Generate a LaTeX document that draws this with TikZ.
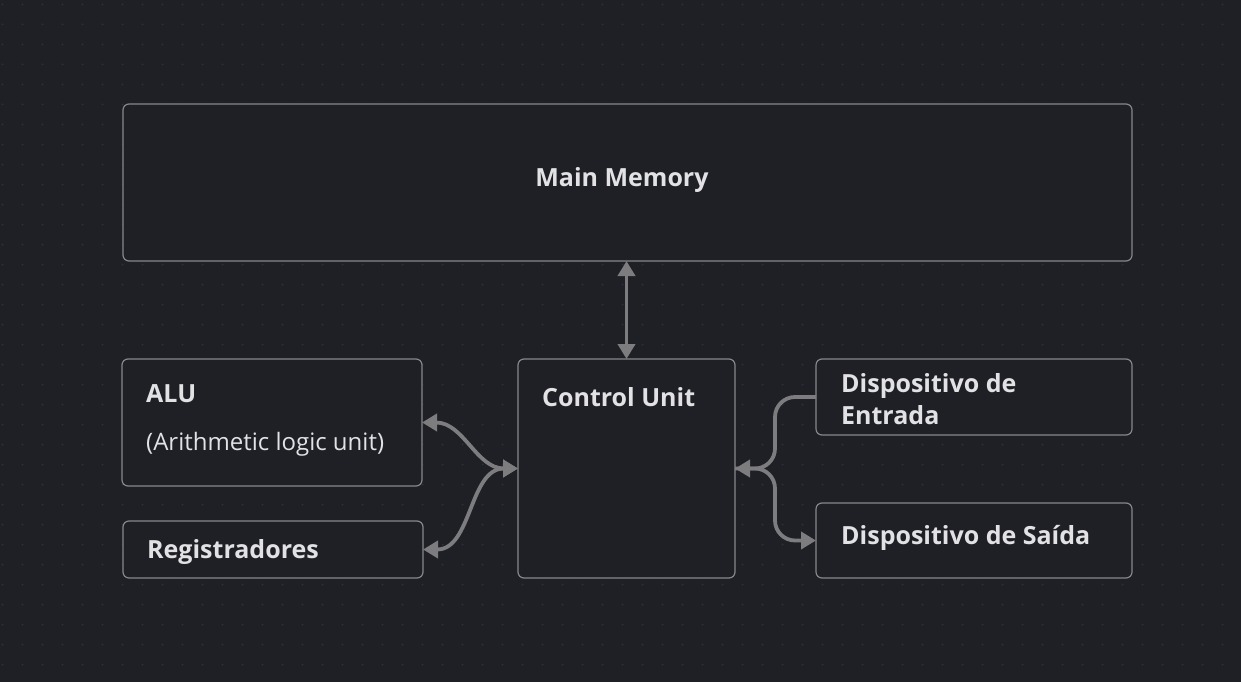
\documentclass[tikz,border=0pt]{standalone}
\usepackage{fontspec}
\setmainfont{Open Sans}
\usetikzlibrary{arrows.meta}
\definecolor{bgcol}{RGB}{30,32,38}
\definecolor{dotcol}{RGB}{46,49,56}
\definecolor{linecol}{RGB}{135,135,138}
\definecolor{arrcol}{RGB}{125,125,128}
\definecolor{txtcol}{RGB}{226,226,228}
\tikzset{
    unit/.style={draw=linecol, fill=bgcol, line width=1.2pt, rounded corners=6pt,
        inner sep=0pt, outer sep=0pt},
    title/.style={text=txtcol, font=\fontsize{25}{32}\selectfont\bfseries, inner sep=0pt, anchor=west},
    subtitle/.style={text=txtcol, font=\fontsize{24}{30}\selectfont, inner sep=0pt, anchor=west},
    bus/.style={draw=arrcol, line width=3.8pt, -{Triangle[length=15pt,width=17pt]}},
    busboth/.style={bus, {Triangle[length=15pt,width=17pt]}-{Triangle[length=15pt,width=17pt]}}
}
\begin{document}
\begin{tikzpicture}[x=1pt,y=-1pt]
    \fill[bgcol] (0,0) rectangle (1241,682);
    \useasboundingbox (0,0) rectangle (1241,682);
    % dotted canvas
    \foreach \i in {0,...,61}
        \foreach \j in {0,...,33}
            \fill[dotcol] (2.5+20*\i,4.5+20*\j) circle (1);

    \node[unit, minimum width=1009pt, minimum height=157pt] (mem) at (627.5,182.5) {};
    \node[title, anchor=center] (memtxt) at (622,180) {Main Memory};

    \node[unit, minimum width=300pt, minimum height=127pt] (alu) at (272,422.5) {};
    \node[title] (alutxt) at (146,394) {ALU};
    \node[subtitle] (aludesc) at (146,444) {(Arithmetic logic unit)};

    \node[unit, minimum width=300pt, minimum height=57pt] (reg) at (273,549.5) {};
    \node[title] (regtxt) at (147,552) {Registradores};

    \node[unit, minimum width=217pt, minimum height=219pt] (cu) at (626.5,468.5) {};
    \node[title] (cutxt) at (542,397) {Control Unit};

    \node[unit, minimum width=316pt, minimum height=76pt] (ent) at (974,397) {};
    \node[title, align=left] (enttxt) at (841,399) {Dispositivo de\\Entrada};

    \node[unit, minimum width=316pt, minimum height=75pt] (sai) at (974,540.5) {};
    \node[title] (saitxt) at (841,538) {Dispositivo de Saída};

    \coordinate (split) at (775,468.5);

    \draw[busboth] (mem.south -| cu.north) -- (cu.north);
    \draw[busboth] (alu.east) to[out=0,in=180] (cu.west);
    \draw[busboth] (reg.east) to[out=0,in=180] (cu.west);
    \draw[bus, rounded corners=20pt] (ent.west) -| (split) -- (cu.east);
    \draw[bus, rounded corners=20pt] (cu.east) -- (split) |- (sai.west);

\end{tikzpicture}
\end{document}
